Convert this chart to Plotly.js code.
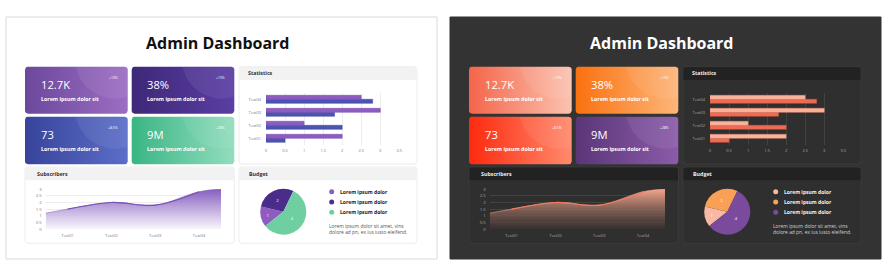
<!DOCTYPE html>
<html>
<head>
<meta charset="utf-8">
<script src="https://cdn.plot.ly/plotly-3.0.1.min.js"></script>
<style>
  html, body { margin: 0; padding: 0; background: #ffffff; }
  #chart { width: 885px; height: 280px; }
</style>
</head>
<body>
<div id="chart"></div>
<script>
// ---- dashboard data ----
const kpiValues = ['12.7K', '38%', '73', '9M'];
const kpiChanges = ['+10%', '+15%', '+8.5%', '+28%'];
const kpiCaption = 'Lorem ipsum dolor sit';

const statCategories = ['Text01', 'Text02', 'Text03', 'Text04'];
const statSeriesA = [0.5, 2.0, 1.8, 2.8];   // lower bar of each pair
const statSeriesB = [2.0, 1.0, 3.0, 2.5];   // upper bar of each pair

const subCategories = ['Text01', 'Text02', 'Text03', 'Text04'];
const subAreaX = [-0.5, 0, 1, 2, 3, 3.5];
const subAreaY = [1.2, 1.5, 2.0, 1.8, 2.8, 3.0];
const subLineY = [1.5, 2.0, 1.8, 2.8];

const budgetLabels = ['Lorem ipsum dolor', 'Lorem ipsum dolor', 'Lorem ipsum dolor'];
const budgetValues = [1, 2, 4];
const budgetNote = 'Lorem ipsum dolor sit amet, vins<br>dolore ad pn, ex ius iusto eleifend.';

const dashTitle = 'Admin Dashboard';
const panelTitles = ['Statistics', 'Subscribers', 'Budget'];

// ---- page geometry (pixels) ----
const W = 885, H = 280;
const FONT = 'Open Sans, Noto Sans, sans-serif';
const px = v => v / W;
const py = v => 1 - v / H;

const themes = [
  {
    dx: 0,
    frameFill: '#ffffff', frameLine: '#dadada',
    title: '#111111',
    panelFill: '#ffffff', panelLine: '#e8e8e8', headFill: '#f2f2f2', headText: '#333333',
    tick: '#7a7a7a', grid: '#e6e6e6',
    cards: [['#6c489c', '#9c6dc3'], ['#3e2878', '#5a3ea4'], ['#38449a', '#5b6ec8'], ['#3ab584', '#92ddbe']],
    barA: '#4b54b3', barALine: '#3c449c', barB: '#8e5cc2', barBLine: '#7347a8',
    areaTop: 'rgba(128,84,186,0.95)', areaBottom: 'rgba(248,246,252,0.9)', areaLine: '#8a66c4', line: '#7650b6',
    pie: ['#8e5cc0', '#4a2d8b', '#6fcfa0'],
    legendText: '#222222', note: '#555555'
  },
  {
    dx: 444,
    frameFill: '#333333', frameLine: '#333333',
    title: '#ffffff',
    panelFill: '#2f2f2f', panelLine: '#3d3d3d', headFill: '#222222', headText: '#eeeeee',
    tick: '#a8a8a8', grid: '#4a4a4a',
    cards: [['#f4654a', '#fbc3b1'], ['#fa710f', '#fdb67a'], ['#fd2a0f', '#ff8a6c'], ['#5a3678', '#8b5ba9']],
    barA: '#f06b54', barALine: '#d9543f', barB: '#f9b39d', barBLine: '#e98a72',
    areaTop: 'rgba(246,166,142,1)', areaBottom: 'rgba(58,50,48,0.6)', areaLine: '#f4a088', line: '#f07d62',
    pie: ['#f8b8a4', '#f9a057', '#7a4a9c'],
    legendText: '#f2f2f2', note: '#cfcfcf'
  }
];

// rounded rectangle as an SVG path in canvas pixels
function rrPath(x0, y0, x1, y1, r) {
  return `M${x0 + r},${y0} L${x1 - r},${y0} Q${x1},${y0} ${x1},${y0 + r} L${x1},${y1 - r} Q${x1},${y1} ${x1 - r},${y1} ` +
         `L${x0 + r},${y1} Q${x0},${y1} ${x0},${y1 - r} L${x0},${y0 + r} Q${x0},${y0} ${x0 + r},${y0} Z`;
}
// header band: rounded top corners only
function headPath(x0, y0, x1, y1, r) {
  return `M${x0 + r},${y0} L${x1 - r},${y0} Q${x1},${y0} ${x1},${y0 + r} L${x1},${y1} L${x0},${y1} L${x0},${y0 + r} Q${x0},${y0} ${x0 + r},${y0} Z`;
}
// rounded rectangle outline as polygon points (for gradient-filled cards)
function rrPoints(x0, y0, x1, y1, r) {
  const xs = [], ys = [];
  const corners = [[x1 - r, y0 + r, -90], [x1 - r, y1 - r, 0], [x0 + r, y1 - r, 90], [x0 + r, y0 + r, 180]];
  corners.forEach(([cx, cy, a0]) => {
    for (let i = 0; i <= 6; i++) {
      const a = (a0 + i * 15) * Math.PI / 180;
      xs.push(cx + r * Math.cos(a)); ys.push(cy + r * Math.sin(a));
    }
  });
  xs.push(xs[0]); ys.push(ys[0]);
  return { xs, ys };
}
// soft circular glow clipped to a card
function glowPoints(cx, cy, R, x0, y0, x1, y1) {
  const xs = [], ys = [];
  const clamp = (v, a, b) => Math.max(a, Math.min(b, v));
  for (let i = 0; i <= 96; i++) {
    const a = 2 * Math.PI * i / 96;
    xs.push(clamp(cx + R * Math.cos(a), x0 + 0.5, x1 - 0.5));
    ys.push(clamp(cy + R * Math.sin(a), y0 + 0.5, y1 - 0.5));
  }
  return { xs, ys };
}

const traces = [];
const shapes = [];
const annotations = [];
const layoutAxes = {};

function ann(x, y, text, size, color, anchor, extra) {
  annotations.push(Object.assign({
    xref: 'paper', yref: 'paper', x: px(x), y: py(y), text, showarrow: false,
    xanchor: anchor || 'left', yanchor: 'middle', borderpad: 0,
    font: { family: FONT, size, color }
  }, extra || {}));
}
function shape(path, fill, line, lw) {
  shapes.push({ type: 'path', xref: 'x', yref: 'y', path, fillcolor: fill,
    line: { color: line, width: lw || 0 }, layer: 'below' });
}

// canvas axis in pixels, used for decorative frames and cards
layoutAxes.xaxis = { domain: [0, 1], range: [0, W], visible: false, fixedrange: true };
layoutAxes.yaxis = { domain: [0, 1], range: [H, 0], visible: false, fixedrange: true };

themes.forEach((t, k) => {
  const dx = t.dx;
  const ax = 2 + k * 2;          // bar chart axis index
  const ax2 = 3 + k * 2;         // area chart axis index

  // outer frame
  shape(`M${6 + dx},${17} L${437 + dx},${17} L${437 + dx},${259} L${6 + dx},${259} Z`, t.frameFill, t.frameLine, 1);

  // title
  ann(218 + dx, 43, '<b>' + dashTitle + '</b>', 16, t.title, 'center');

  // KPI cards
  const cols = [[25, 127.7], [131.7, 234.3]];
  const rows = [[66.7, 113.7], [116.7, 164.3]];
  kpiValues.forEach((v, i) => {
    const [x0, x1] = cols[i % 2].map(c => c + dx);
    const [y0, y1] = rows[Math.floor(i / 2)];
    const p = rrPoints(x0, y0, x1, y1, 3);
    traces.push({
      type: 'scatter', mode: 'lines', x: p.xs, y: p.ys, xaxis: 'x', yaxis: 'y',
      fill: 'toself', line: { width: 0 }, hoverinfo: 'skip', showlegend: false,
      fillgradient: { type: 'horizontal', colorscale: [[0, t.cards[i][0]], [1, t.cards[i][1]]] }
    });
    const g = glowPoints(x0 + 90, y0 - 8, 40, x0, y0, x1, y1);
    traces.push({
      type: 'scatter', mode: 'lines', x: g.xs, y: g.ys, xaxis: 'x', yaxis: 'y',
      fill: 'toself', fillcolor: 'rgba(255,255,255,0.07)', line: { width: 0 },
      hoverinfo: 'skip', showlegend: false
    });
    ann(x0 + 14.5, y0 + 17.3, v, 11.2, '#ffffff', 'left');
    ann(x0 + 14.5, y0 + 32.3, '<b>' + kpiCaption + '</b>', 5.3, '#ffffff', 'left');
    ann(x1 - 8.5, y0 + 10.5, kpiChanges[i], 3.4, '#ffffff', 'right');
  });

  // panels
  const panels = [[239, 66.7, 417, 164], [25, 167, 234.3, 243.3], [239, 167, 417, 243.3]];
  const titleX = [247, 36, 248];
  panels.forEach((b, i) => {
    const x0 = b[0] + dx, x1 = b[2] + dx;
    shape(rrPath(x0, b[1], x1, b[3], 3), t.panelFill, t.panelLine, 0.8);
    shape(headPath(x0 + 0.4, b[1] + 0.4, x1 - 0.4, b[1] + 13.3, 2.6), t.headFill, t.headFill, 0);
    ann(titleX[i] + dx, b[1] + 6.6, '<b>' + panelTitles[i] + '</b>', 5.3, t.headText, 'left');
  });

  // statistics: grouped horizontal bars
  layoutAxes['xaxis' + ax] = {
    domain: [px(266 + dx), px(399.3 + dx)], range: [0, 3.5], anchor: 'y' + ax,
    tick0: 0, dtick: 0.5, showgrid: true, gridcolor: t.grid, gridwidth: 0.7,
    zeroline: false, showline: false, ticks: '', ticklabelstandoff: 2,
    tickfont: { family: FONT, size: 4, color: t.tick }, fixedrange: true
  };
  layoutAxes['yaxis' + ax] = {
    domain: [py(144.8), py(92.8)], type: 'category', categoryorder: 'array', categoryarray: statCategories,
    anchor: 'x' + ax, showgrid: false, zeroline: false, showline: false, ticks: '', ticklabelstandoff: 4,
    tickfont: { family: FONT, size: 4, color: t.tick }, fixedrange: true
  };
  traces.push({
    type: 'bar', orientation: 'h', y: statCategories, x: statSeriesA, xaxis: 'x' + ax, yaxis: 'y' + ax,
    marker: { color: t.barA, line: { color: t.barALine, width: 0.5 } }, hoverinfo: 'skip', showlegend: false
  });
  traces.push({
    type: 'bar', orientation: 'h', y: statCategories, x: statSeriesB, xaxis: 'x' + ax, yaxis: 'y' + ax,
    marker: { color: t.barB, line: { color: t.barBLine, width: 0.5 } }, hoverinfo: 'skip', showlegend: false
  });

  // subscribers: smooth area
  layoutAxes['xaxis' + ax2] = {
    domain: [px(45.7 + dx), px(221 + dx)], range: [-0.5, 3.5], anchor: 'y' + ax2,
    tickvals: [0, 1, 2, 3], ticktext: subCategories, showgrid: false, zeroline: false, showline: false,
    ticks: '', ticklabelstandoff: 3, tickfont: { family: FONT, size: 4, color: t.tick }, fixedrange: true
  };
  layoutAxes['yaxis' + ax2] = {
    domain: [py(229.3), py(189)], range: [0, 3], anchor: 'x' + ax2, dtick: 0.5, tick0: 0,
    showgrid: true, gridcolor: t.grid, gridwidth: 0.7, zeroline: false, showline: false,
    ticks: '', ticklabelstandoff: 3, tickfont: { family: FONT, size: 4.3, color: t.tick }, fixedrange: true
  };
  traces.push({
    type: 'scatter', mode: 'lines', x: subAreaX, y: subAreaY, xaxis: 'x' + ax2, yaxis: 'y' + ax2,
    line: { shape: 'spline', smoothing: 1, color: t.areaLine, width: 0.6 }, fill: 'tozeroy',
    fillgradient: { type: 'vertical', start: 0, stop: 3, colorscale: [[0, t.areaBottom], [1, t.areaTop]] },
    hoverinfo: 'skip', showlegend: false
  });
  traces.push({
    type: 'scatter', mode: 'lines', x: [0, 1, 2, 3], y: subLineY, xaxis: 'x' + ax2, yaxis: 'y' + ax2,
    line: { shape: 'spline', smoothing: 1, color: t.line, width: 1.1 }, hoverinfo: 'skip', showlegend: false
  });

  // budget: pie
  const cx = 283.3 + dx, cy = 211.7, r = 23;
  traces.push({
    type: 'pie', labels: ['a', 'b', 'c'], values: budgetValues, sort: false, direction: 'clockwise',
    rotation: 231.7, domain: { x: [px(cx - r), px(cx + r)], y: [py(cy + r), py(cy - r)] },
    marker: { colors: t.pie, line: { width: 0 } }, textinfo: 'value', textposition: 'inside',
    insidetextorientation: 'horizontal', textfont: { family: FONT, size: 4.2, color: '#ffffff' },
    hoverinfo: 'skip', showlegend: false
  });

  // budget legend
  const ly = [191.7, 202, 212.3];
  budgetLabels.forEach((lab, i) => {
    shapes.push({ type: 'circle', xref: 'x', yref: 'y', x0: 329.2 + dx, x1: 334.2 + dx, y0: ly[i] - 2.5, y1: ly[i] + 2.5,
      fillcolor: t.pie[i], line: { width: 0 }, layer: 'above' });
    ann(338.5 + dx, ly[i], '<b>' + lab + '</b>', 5, t.legendText, 'left');
  });
  ann(328.3 + dx, 229.3, budgetNote, 4.9, t.note, 'left', { align: 'left' });
});

const layout = Object.assign({
  width: W, height: H,
  margin: { l: 0, r: 0, t: 0, b: 0, pad: 0 },
  paper_bgcolor: '#ffffff', plot_bgcolor: 'rgba(0,0,0,0)',
  barmode: 'group', bargap: 0.385, bargroupgap: 0,
  showlegend: false,
  font: { family: FONT },
  shapes, annotations
}, layoutAxes);

Plotly.newPlot('chart', traces, layout, { staticPlot: true, displayModeBar: false });
</script>
</body>
</html>
